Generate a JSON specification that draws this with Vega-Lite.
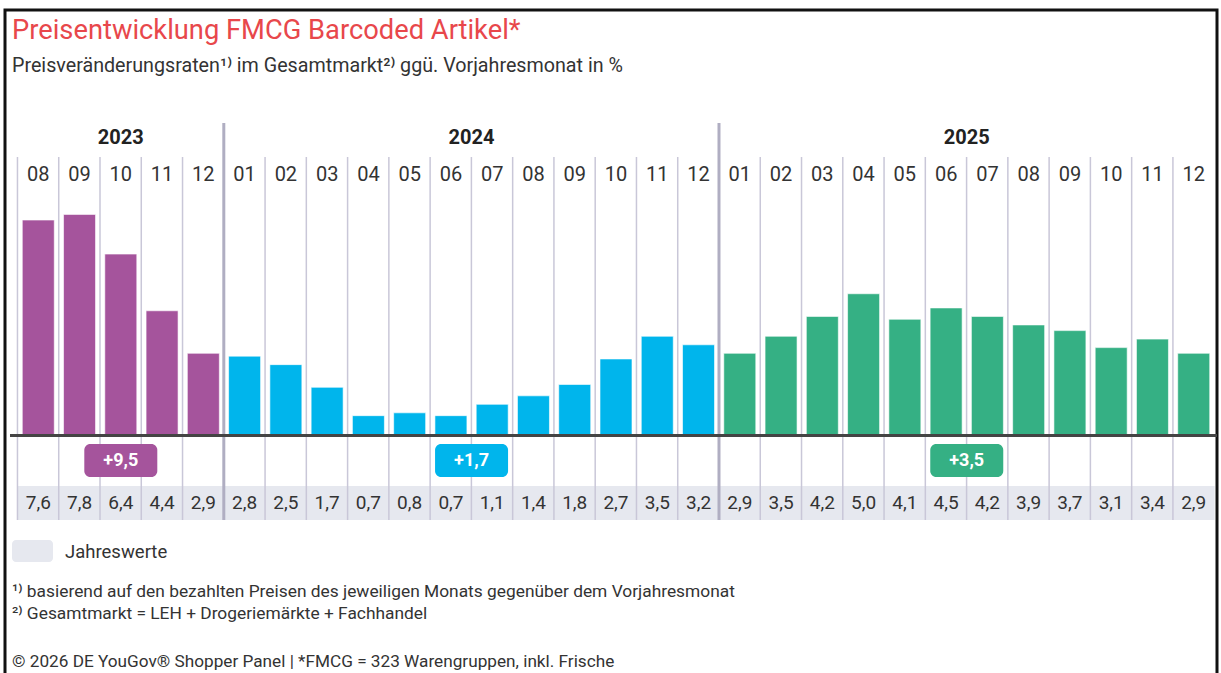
{
  "$schema": "https://vega.github.io/schema/vega-lite/v6.json",
  "width": 1221,
  "height": 673,
  "autosize": {"type": "fit", "contains": "padding"},
  "padding": {"left": 5, "top": 10, "right": 4, "bottom": -3},
  "background": "white",
  "config": {
    "view": {"stroke": "#111111", "strokeWidth": 3},
    "locale": {"number": {"decimal": ",", "thousands": ".", "grouping": [3], "currency": ["", " €"]}},
    "text": {"font": "Roboto", "baseline": "middle", "color": "#333333"}
  },
  "datasets": {
    "monate": [
      {"n": 0, "jahr": "2023", "monat": "08", "wert": 7.6},
      {"n": 1, "jahr": "2023", "monat": "09", "wert": 7.8},
      {"n": 2, "jahr": "2023", "monat": "10", "wert": 6.4},
      {"n": 3, "jahr": "2023", "monat": "11", "wert": 4.4},
      {"n": 4, "jahr": "2023", "monat": "12", "wert": 2.9},
      {"n": 5, "jahr": "2024", "monat": "01", "wert": 2.8},
      {"n": 6, "jahr": "2024", "monat": "02", "wert": 2.5},
      {"n": 7, "jahr": "2024", "monat": "03", "wert": 1.7},
      {"n": 8, "jahr": "2024", "monat": "04", "wert": 0.7},
      {"n": 9, "jahr": "2024", "monat": "05", "wert": 0.8},
      {"n": 10, "jahr": "2024", "monat": "06", "wert": 0.7},
      {"n": 11, "jahr": "2024", "monat": "07", "wert": 1.1},
      {"n": 12, "jahr": "2024", "monat": "08", "wert": 1.4},
      {"n": 13, "jahr": "2024", "monat": "09", "wert": 1.8},
      {"n": 14, "jahr": "2024", "monat": "10", "wert": 2.7},
      {"n": 15, "jahr": "2024", "monat": "11", "wert": 3.5},
      {"n": 16, "jahr": "2024", "monat": "12", "wert": 3.2},
      {"n": 17, "jahr": "2025", "monat": "01", "wert": 2.9},
      {"n": 18, "jahr": "2025", "monat": "02", "wert": 3.5},
      {"n": 19, "jahr": "2025", "monat": "03", "wert": 4.2},
      {"n": 20, "jahr": "2025", "monat": "04", "wert": 5.0},
      {"n": 21, "jahr": "2025", "monat": "05", "wert": 4.1},
      {"n": 22, "jahr": "2025", "monat": "06", "wert": 4.5},
      {"n": 23, "jahr": "2025", "monat": "07", "wert": 4.2},
      {"n": 24, "jahr": "2025", "monat": "08", "wert": 3.9},
      {"n": 25, "jahr": "2025", "monat": "09", "wert": 3.7},
      {"n": 26, "jahr": "2025", "monat": "10", "wert": 3.1},
      {"n": 27, "jahr": "2025", "monat": "11", "wert": 3.4},
      {"n": 28, "jahr": "2025", "monat": "12", "wert": 2.9}
    ],
    "jahre": [
      {"jahr": "2023", "jahreswert": 9.5},
      {"jahr": "2024", "jahreswert": 1.7},
      {"jahr": "2025", "jahreswert": 3.5}
    ]
  },
  "data": {"name": "monate"},
  "encoding": {
    "x": {"field": "n", "type": "quantitative", "axis": null, "scale": {"domain": [-0.685, 28.443], "nice": false, "zero": false}}
  },
  "layer": [
    {
      "mark": {"type": "bar", "orient": "vertical", "width": 41.8, "fill": "#e6e8ef", "clip": true},
      "encoding": {"y": {"value": 476}, "y2": {"value": 510}}
    },
    {
      "transform": [{"filter": "datum.monat != '01'"}],
      "mark": {"type": "rule", "xOffset": -20.8, "stroke": "#c9c7d8", "strokeWidth": 1.5},
      "encoding": {"y": {"value": 147}, "y2": {"value": 510}}
    },
    {
      "transform": [{"filter": "datum.monat == '01'"}],
      "mark": {"type": "rule", "xOffset": -20.8, "stroke": "#b0aec2", "strokeWidth": 3},
      "encoding": {"y": {"value": 113}, "y2": {"value": 510}}
    },
    {
      "mark": {"type": "bar", "orient": "vertical", "width": 32, "stroke": "white", "strokeWidth": 1, "strokeOpacity": 0.6},
      "encoding": {
        "y": {"field": "wert", "type": "quantitative", "axis": null, "scale": {"domain": [-8.483, 15.009], "nice": false, "zero": false}},
        "color": {"field": "jahr", "type": "nominal", "legend": null, "scale": {"domain": ["2023", "2024", "2025"], "range": ["#a5549c", "#00b5ec", "#35b084"]}}
      }
    },
    {
      "mark": {"type": "rule", "stroke": "#444444", "strokeWidth": 2},
      "encoding": {"x": {"value": 5}, "x2": {"value": 1212}, "y": {"datum": 0, "type": "quantitative"}}
    },
    {
      "mark": {"type": "text", "fontSize": 20, "font": "Roboto"},
      "encoding": {"text": {"field": "monat"}, "y": {"value": 165}}
    },
    {
      "mark": {"type": "text", "fontSize": 19},
      "encoding": {"text": {"field": "wert", "type": "quantitative", "format": ".1f"}, "y": {"value": 493}}
    },
    {
      "transform": [
        {"aggregate": [{"op": "mean", "field": "n", "as": "mitte"}], "groupby": ["jahr"]},
        {"lookup": "jahr", "from": {"data": {"name": "jahre"}, "key": "jahr", "fields": ["jahreswert"]}}
      ],
      "encoding": {"x": {"field": "mitte", "type": "quantitative"}},
      "layer": [
        {
          "mark": {"type": "bar", "orient": "vertical", "width": 73, "cornerRadius": 6},
          "encoding": {
            "y": {"value": 434}, "y2": {"value": 467},
            "color": {"field": "jahr", "type": "nominal", "legend": null}
          }
        },
        {
          "mark": {"type": "text", "fontSize": 18, "fontWeight": "bold", "color": "white"},
          "encoding": {"text": {"field": "jahreswert", "type": "quantitative", "format": "+.1f"}, "y": {"value": 450.5}}
        },
        {
          "mark": {"type": "text", "fontSize": 20, "fontWeight": "bold", "color": "#222222"},
          "encoding": {"text": {"field": "jahr"}, "y": {"value": 128}}
        }
      ]
    },
    {
      "data": {"values": [{"t": "Preisentwicklung FMCG Barcoded Artikel*"}]},
      "mark": {"type": "text", "align": "left", "fontSize": 27.3, "color": "#e8474b"},
      "encoding": {"text": {"field": "t"}, "x": {"value": 7}, "y": {"value": 21}}
    },
    {
      "data": {"values": [{"t": "Preisveränderungsraten¹⁾ im Gesamtmarkt²⁾ ggü. Vorjahresmonat in %"}]},
      "mark": {"type": "text", "align": "left", "fontSize": 19.7, "color": "#333333"},
      "encoding": {"text": {"field": "t"}, "x": {"value": 7}, "y": {"value": 56}}
    },
    {
      "data": {"values": [{"t": "Jahreswerte"}]},
      "mark": {"type": "rect", "fill": "#e6e8ef", "cornerRadius": 4},
      "encoding": {"x": {"value": 7}, "x2": {"value": 48}, "y": {"value": 530}, "y2": {"value": 552}}
    },
    {
      "data": {"values": [{"t": "Jahreswerte"}]},
      "mark": {"type": "text", "align": "left", "fontSize": 18.5},
      "encoding": {"text": {"field": "t"}, "x": {"value": 60}, "y": {"value": 542}}
    },
    {
      "data": {"values": [{"t": "¹⁾ basierend auf den bezahlten Preisen des jeweiligen Monats gegenüber dem Vorjahresmonat"}]},
      "mark": {"type": "text", "align": "left", "fontSize": 17.35},
      "encoding": {"text": {"field": "t"}, "x": {"value": 7}, "y": {"value": 582}}
    },
    {
      "data": {"values": [{"t": "²⁾ Gesamtmarkt = LEH + Drogeriemärkte + Fachhandel"}]},
      "mark": {"type": "text", "align": "left", "fontSize": 17.35},
      "encoding": {"text": {"field": "t"}, "x": {"value": 7}, "y": {"value": 604}}
    },
    {
      "data": {"values": [{"t": "© 2026 DE YouGov® Shopper Panel | *FMCG = 323 Warengruppen, inkl. Frische"}]},
      "mark": {"type": "text", "align": "left", "fontSize": 17.2},
      "encoding": {"text": {"field": "t"}, "x": {"value": 7}, "y": {"value": 652}}
    }
  ]
}
